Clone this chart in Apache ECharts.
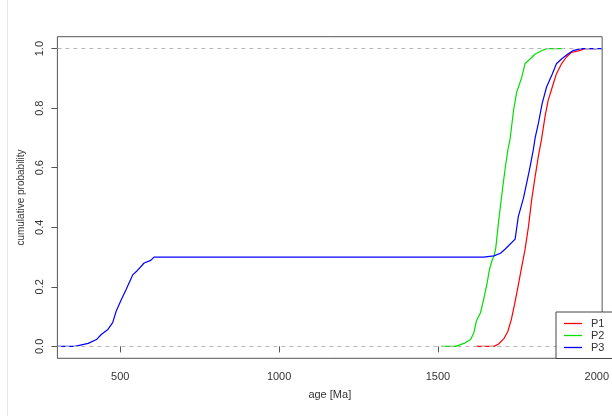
<!DOCTYPE html>
<html>
<head>
<meta charset="utf-8">
<script src="https://cdn.jsdelivr.net/npm/echarts@6/dist/echarts.min.js"></script>
<style>html,body{margin:0;padding:0;background:#fff}#c{width:612px;height:416px}</style>
</head>
<body>
<div id="c"></div>
<script>
var seriesNames = ['P1', 'P2', 'P3'];
var xTicks = [500, 1000, 1500, 2000];
var yTicks = [0, 0.2, 0.4, 0.6, 0.8, 1.0];

var p1Age  = [1619, 1676, 1691, 1707, 1720, 1731, 1741, 1752, 1762, 1774, 1785, 1795, 1806, 1816, 1826, 1837, 1847, 1860, 1873, 1889, 1904, 1920, 1946, 1961, 2000];
var p1Prob = [0, 0, 0.008, 0.025, 0.05, 0.09, 0.14, 0.2, 0.258, 0.324, 0.402, 0.492, 0.57, 0.637, 0.695, 0.771, 0.826, 0.871, 0.915, 0.949, 0.971, 0.987, 0.993, 1, 1];

var p2Age  = [1510, 1556, 1582, 1603, 1613, 1621, 1634, 1645, 1655, 1662, 1671, 1677, 1682, 1691, 1700, 1707, 1712, 1720, 1727, 1738, 1748, 1764, 1774, 1790, 1806, 1826, 1842, 1890];
var p2Prob = [0, 0, 0.01, 0.023, 0.046, 0.085, 0.113, 0.163, 0.213, 0.258, 0.291, 0.305, 0.33, 0.42, 0.5, 0.56, 0.6, 0.659, 0.695, 0.793, 0.854, 0.904, 0.949, 0.965, 0.982, 0.993, 1, 1];

var p3Age  = [302, 357, 399, 425, 440, 461, 476, 487, 503, 518, 539, 554, 575, 596, 606, 1644, 1676, 1697, 1712, 1743, 1753, 1769, 1779, 1790, 1800, 1806, 1816, 1828, 1842, 1860, 1873, 1889, 1909, 1925, 1951, 2017];
var p3Prob = [0, 0, 0.01, 0.023, 0.04, 0.057, 0.08, 0.118, 0.157, 0.19, 0.24, 0.255, 0.28, 0.289, 0.3, 0.3, 0.304, 0.313, 0.327, 0.36, 0.436, 0.497, 0.547, 0.603, 0.659, 0.7, 0.748, 0.815, 0.871, 0.915, 0.949, 0.965, 0.982, 0.993, 1, 1];

var refLines = [0, 1];

function pairs(a, b) { return a.map(function (v, i) { return [v, b[i]]; }); }

var colors = ['#ff0000', '#00e000', '#0000ff'];
var font = 'Liberation Sans, Arial, Helvetica, sans-serif';

var chart = echarts.init(document.getElementById('c'), null, {renderer: 'canvas'});
var mk = function (name, age, prob, color) {
  return {
    name: name, type: 'line', data: pairs(age, prob), symbol: 'none',
    lineStyle: {color: color, width: 1.2}, itemStyle: {color: color},
    animation: false, z: 2
  };
};
chart.setOption({
  animation: false,
  backgroundColor: '#fff',
  textStyle: {fontFamily: font},
  graphic: [{type: 'line', shape: {x1: 7.5, y1: 0, x2: 7.5, y2: 416}, style: {stroke: '#e6e6e6', lineWidth: 1}}],
  grid: {left: 57.4, top: 36.7, right: 4.3, bottom: 57.7, show: true, borderColor: '#555', borderWidth: 1, backgroundColor: 'transparent'},
  xAxis: {
    type: 'value', min: 302, max: 2017,
    name: 'age [Ma]', nameLocation: 'middle', nameGap: 31,
    nameTextStyle: {fontSize: 11, color: '#333', fontFamily: font},
    axisLine: {show: false},
    axisTick: {show: true, length: 6, lineStyle: {color: '#555'}, customValues: xTicks},
    axisLabel: {fontSize: 11, color: '#333', margin: 13, fontFamily: font, customValues: xTicks, formatter: function (v) { return String(v); }},
    splitLine: {show: false}
  },
  yAxis: {
    type: 'value', min: -0.04, max: 1.04,
    name: 'cumulative probability', nameLocation: 'middle', nameGap: 28, nameRotate: 90,
    nameTextStyle: {fontSize: 10, color: '#333', fontFamily: font},
    axisLine: {show: false},
    axisTick: {show: true, length: 6, lineStyle: {color: '#555'}, customValues: yTicks},
    axisLabel: {fontSize: 11, color: '#333', margin: 12, rotate: 90, fontFamily: font, customValues: yTicks, formatter: function (v) { return v.toFixed(1); }},
    splitLine: {show: false}
  },
  legend: {
    data: seriesNames, orient: 'vertical', left: 556, top: 312, z: 20,
    icon: 'rect', itemWidth: 18, itemHeight: 1.3, itemGap: 0,
    padding: [5.5, 40, 5, 8],
    borderColor: '#444', borderWidth: 1, backgroundColor: '#fff',
    textStyle: {fontSize: 11, lineHeight: 12, color: '#333', fontFamily: font, padding: [0, 0, 0, 4]}
  },
  series: [
    mk(seriesNames[0], p1Age, p1Prob, colors[0]),
    mk(seriesNames[1], p2Age, p2Prob, colors[1]),
    mk(seriesNames[2], p3Age, p3Prob, colors[2]),
    {
      name: 'ref', type: 'line', data: [], symbol: 'none', z: 5, silent: true,
      markLine: {
        symbol: 'none', silent: true, label: {show: false},
        lineStyle: {color: '#b4b4b4', type: [4, 4], width: 1},
        data: refLines.map(function (v) { return {yAxis: v}; })
      }
    }
  ]
});
</script>
</body>
</html>
